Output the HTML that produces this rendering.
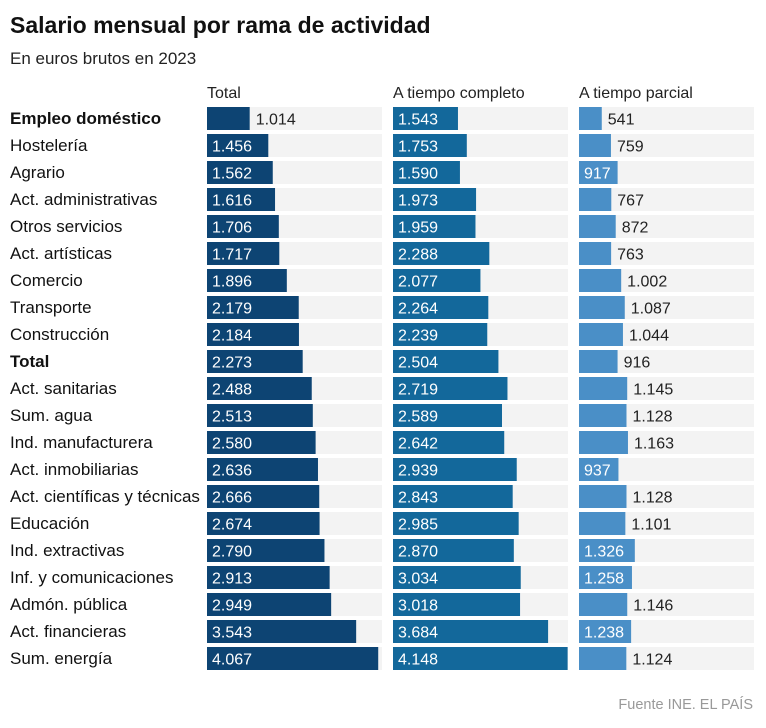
<!DOCTYPE html>
<html><head><meta charset="utf-8"><style>
body{margin:0;background:#fff;font-family:"Liberation Sans",sans-serif;}
svg text{font-family:"Liberation Sans",sans-serif;}
</style></head><body>
<svg id="chart" width="766" height="723">
<text x="10" y="33" font-size="23" font-weight="bold" fill="#111">Salario mensual por rama de actividad</text>
<text x="10" y="64" font-size="17" fill="#222">En euros brutos en 2023</text>
<text x="207" y="98" font-size="16" fill="#222">Total</text>
<text x="393" y="98" font-size="16" fill="#222">A tiempo completo</text>
<text x="579" y="98" font-size="16" fill="#222">A tiempo parcial</text>
<text x="753" y="709" font-size="14.5" fill="#999" text-anchor="end">Fuente INE. EL PAÍS</text>
<g id="rows"></g>
</svg>
<script>
const categories=["Empleo doméstico","Hostelería","Agrario","Act. administrativas","Otros servicios","Act. artísticas","Comercio","Transporte","Construcción","Total","Act. sanitarias","Sum. agua","Ind. manufacturera","Act. inmobiliarias","Act. científicas y técnicas","Educación","Ind. extractivas","Inf. y comunicaciones","Admón. pública","Act. financieras","Sum. energía"];
const boldRows=["Empleo doméstico","Total"];
const totalValues=[1014,1456,1562,1616,1706,1717,1896,2179,2184,2273,2488,2513,2580,2636,2666,2674,2790,2913,2949,3543,4067];
const fullTimeValues=[1543,1753,1590,1973,1959,2288,2077,2264,2239,2504,2719,2589,2642,2939,2843,2985,2870,3034,3018,3684,4148];
const partTimeValues=[541,759,917,767,872,763,1002,1087,1044,916,1145,1128,1163,937,1128,1101,1326,1258,1146,1238,1124];
const partTimeInside=[false,false,true,false,false,false,false,false,false,false,false,false,false,true,false,false,true,true,false,true,false];
const totalInside=[false,true,true,true,true,true,true,true,true,true,true,true,true,true,true,true,true,true,true,true,true];
const fullTimeInside=fullTimeValues.map(()=>true);

const NS="http://www.w3.org/2000/svg";
const g=document.getElementById('rows');
const scaleX=v=>v*0.0421;
const rowY=i=>107+i*27;
const barH=23, bgW=175;
function fmt(v){const s=String(v);return s.length>3?s.slice(0,-3)+"."+s.slice(-3):s;}
function mk(tag,attrs){const e=document.createElementNS(NS,tag);for(const k in attrs)e.setAttribute(k,attrs[k]);return e;}
const cols=[
 {x0:207,vals:totalValues,inside:totalInside,color:"#0d4473",key:"total"},
 {x0:393,vals:fullTimeValues,inside:fullTimeInside,color:"#13689b",key:"full-time"},
 {x0:579,vals:partTimeValues,inside:partTimeInside,color:"#4a8fc7",key:"part-time"}
];
categories.forEach((c,i)=>{
  const y=rowY(i);
  const lbl=mk('text',{x:10,y:y+17,'font-size':17,fill:'#111'});
  if(boldRows.includes(c))lbl.setAttribute('font-weight','bold');
  lbl.textContent=c;
  
  
  g.appendChild(lbl);
  cols.forEach(col=>{
    const bg=mk('rect',{x:col.x0,y:y,width:bgW,height:barH,fill:'#f3f3f3'});
    
    
    g.appendChild(bg);
    const w=scaleX(col.vals[i]);
    const r=mk('rect',{x:col.x0,y:y,width:w,height:barH,fill:col.color});
    
    
    g.appendChild(r);
    const ins=col.inside[i];
    const t=mk('text',{x:ins?col.x0+5:col.x0+w+6,y:y+17.5,'font-size':16,fill:ins?'#fff':'#222'});
    t.textContent=fmt(col.vals[i]);
    
    
    g.appendChild(t);
  });
});
</script>
</body></html>
